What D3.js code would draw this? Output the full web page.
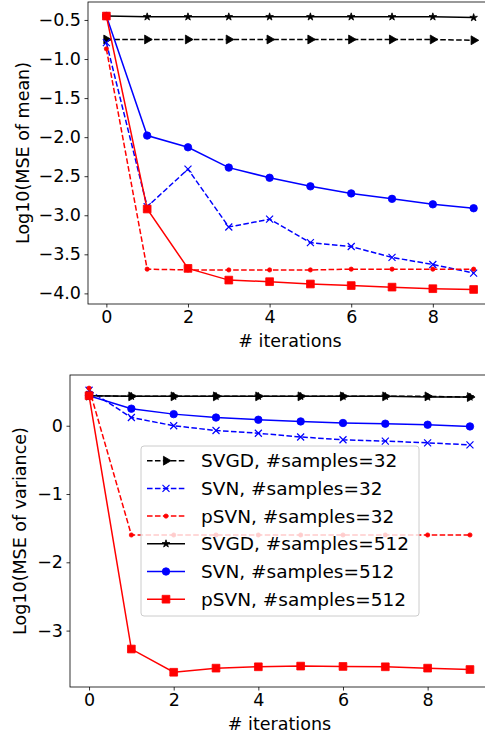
<!DOCTYPE html>
<html>
<head>
<meta charset="utf-8">
<script src="https://cdn.jsdelivr.net/npm/d3@7"></script>
<style>
  body { margin: 0; background: #fff; }
  svg { display: block; font-family: "DejaVu Sans", sans-serif; }
</style>
</head>
<body>
<div id="chart"></div>
<script>
// iterations (x axis)
const iterations = [0, 1, 2, 3, 4, 5, 6, 7, 8, 9]

// top panel: Log10(MSE of mean)
const meanSVGD32 = [-0.75, -0.75, -0.75, -0.75, -0.75, -0.75, -0.75, -0.75, -0.75, -0.76]
const meanSVN32 = [-0.79, -2.89, -2.41, -3.15, -3.05, -3.35, -3.40, -3.54, -3.63, -3.74]
const meanPSVN32 = [-0.87, -3.69, -3.70, -3.70, -3.70, -3.70, -3.69, -3.69, -3.69, -3.69]
const meanSVGD512 = [-0.45, -0.46, -0.46, -0.46, -0.46, -0.46, -0.46, -0.46, -0.46, -0.47]
const meanSVN512 = [-0.45, -1.98, -2.13, -2.39, -2.52, -2.63, -2.72, -2.79, -2.86, -2.91]
const meanPSVN512 = [-0.45, -2.92, -3.68, -3.83, -3.85, -3.88, -3.90, -3.92, -3.94, -3.95]
const meanTicks = [-4.0, -3.5, -3.0, -2.5, -2.0, -1.5, -1.0, -0.5]

// bottom panel: Log10(MSE of variance)
const varSVGD32 = [0.44, 0.43, 0.43, 0.43, 0.43, 0.43, 0.43, 0.43, 0.43, 0.42]
const varSVN32 = [0.52, 0.12, 0.00, -0.07, -0.11, -0.165, -0.205, -0.225, -0.25, -0.28]
const varPSVN32 = [0.55, -1.60, -1.60, -1.60, -1.60, -1.60, -1.60, -1.60, -1.60, -1.60]
const varSVGD512 = [0.44, 0.43, 0.43, 0.43, 0.43, 0.43, 0.43, 0.43, 0.42, 0.42]
const varSVN512 = [0.44, 0.25, 0.17, 0.12, 0.088, 0.063, 0.04, 0.03, 0.015, -0.01]
const varPSVN512 = [0.44, -3.27, -3.61, -3.55, -3.53, -3.52, -3.525, -3.53, -3.55, -3.57]
const varTicks = [-3, -2, -1, 0]

const xTicks = [0, 2, 4, 6, 8]
const labels = ["SVGD, #samples=32", "SVN, #samples=32", "pSVN, #samples=32",
    "SVGD, #samples=512", "SVN, #samples=512", "pSVN, #samples=512"]

// style of each series (same order as labels)
const styles = [
    { color: "#000", dash: "5.55,2.4", marker: "tri" },
    { color: "#0000ff", dash: "5.55,2.4", marker: "x" },
    { color: "#ff0000", dash: "5.55,2.4", marker: "dot" },
    { color: "#000", dash: null, marker: "star" },
    { color: "#0000ff", dash: null, marker: "circle" },
    { color: "#ff0000", dash: null, marker: "square" }
]

const W = 485, H = 736, FS = 17.5, LFS = 18.5

const svg = d3.select("#chart").append("svg")
    .attr("width", W)
    .attr("height", H)

function drawMarker(g, type, color, cx, cy) {
    if (type === "x") {
        const s = 3.5
        g.append("path")
            .attr("d", `M${cx - s},${cy - s}L${cx + s},${cy + s}M${cx - s},${cy + s}L${cx + s},${cy - s}`)
            .attr("stroke", color).attr("stroke-width", 1.2).attr("fill", "none")
        return
    }
    let sym, size
    if (type === "tri") { sym = d3.symbolTriangle; size = 34 }
    if (type === "dot") { sym = d3.symbolCircle; size = 14 }
    if (type === "star") { sym = d3.symbolStar; size = 18 }
    if (type === "circle") { sym = d3.symbolCircle; size = 44 }
    if (type === "square") { sym = d3.symbolSquare; size = 60 }
    g.append("path")
        .attr("d", d3.symbol().type(sym).size(size)())
        .attr("transform", `translate(${cx},${cy})` + (type === "tri" ? " rotate(90)" : ""))
        .attr("fill", color)
        .attr("stroke", color)
        .attr("stroke-width", 0.8)
}

function drawPanel(p) {
    const x = d3.scaleLinear().domain([-0.45, 9.45]).range([p.left, p.right])
    const y = d3.scaleLinear().domain(p.yDomain).range([p.bottom, p.top])

    const g = svg.append("g")

    // series
    p.series.forEach((vals, k) => {
        const st = styles[k]
        const pts = iterations.map((it, i) => [x(it), y(vals[i])])
        g.append("path")
            .attr("d", d3.line()(pts))
            .attr("fill", "none")
            .attr("stroke", st.color)
            .attr("stroke-width", 1.5)
            .attr("stroke-dasharray", st.dash)
        pts.forEach(([px, py]) => drawMarker(g, st.marker, st.color, px, py))
    })

    // axes
    g.append("g")
        .attr("transform", `translate(0,${p.bottom})`)
        .call(d3.axisBottom(x).tickValues(xTicks).tickSize(3.5).tickPadding(3.5).tickFormat(d3.format("d")))
        .call(a => a.select(".domain").remove())
    g.append("g")
        .attr("transform", `translate(${p.left},0)`)
        .call(d3.axisLeft(y).tickValues(p.yTicks).tickSize(3.5).tickPadding(3.5).tickFormat(p.fmt))
        .call(a => a.select(".domain").remove())
    g.selectAll(".tick text").attr("font-size", FS).attr("font-family", "DejaVu Sans").attr("fill", "#000")
    g.selectAll(".tick line").attr("stroke", "#000").attr("stroke-width", 0.8)

    g.append("rect")
        .attr("x", p.left).attr("y", p.top)
        .attr("width", p.right - p.left).attr("height", p.bottom - p.top)
        .attr("fill", "none").attr("stroke", "#000").attr("stroke-width", 0.8)

    g.append("text")
        .attr("x", (p.left + p.right) / 2).attr("y", p.bottom + 43)
        .attr("text-anchor", "middle").attr("font-size", FS)
        .text("# iterations")
    g.append("text")
        .attr("transform", `translate(${p.ylabX},${(p.top + p.bottom) / 2}) rotate(-90)`)
        .attr("text-anchor", "middle").attr("dominant-baseline", "central").attr("font-size", FS)
        .text(p.ylabel)

    return g
}

drawPanel({
    left: 88, right: 492, top: 2, bottom: 304,
    yDomain: [-4.136, -0.27], yTicks: meanTicks, fmt: d3.format(".1f"),
    series: [meanSVGD32, meanSVN32, meanPSVN32, meanSVGD512, meanSVN512, meanPSVN512],
    ylabel: "Log10(MSE of mean)", ylabX: 23
})

const g2 = drawPanel({
    left: 70, right: 489, top: 375, bottom: 687,
    yDomain: [-3.826, 0.743], yTicks: varTicks, fmt: d3.format("d"),
    series: [varSVGD32, varSVN32, varPSVN32, varSVGD512, varSVN512, varPSVN512],
    ylabel: "Log10(MSE of variance)", ylabX: 20
})

// legend
const lg = g2.append("g").attr("transform", "translate(141,446)")
lg.append("rect")
    .attr("width", 278).attr("height", 170).attr("rx", 3)
    .attr("fill", "#fff").attr("fill-opacity", 0.8)
    .attr("stroke", "#ccc").attr("stroke-width", 1)
labels.forEach((lab, k) => {
    const st = styles[k]
    const cy = 14.7 + k * 27.7
    lg.append("line")
        .attr("x1", 6).attr("x2", 44).attr("y1", cy).attr("y2", cy)
        .attr("stroke", st.color).attr("stroke-width", 1.5)
        .attr("stroke-dasharray", st.dash)
    drawMarker(lg, st.marker, st.color, 25, cy)
    lg.append("text")
        .attr("x", 60).attr("y", cy)
        .attr("dominant-baseline", "central")
        .attr("font-size", LFS)
        .text(lab)
})
</script>
</body>
</html>
